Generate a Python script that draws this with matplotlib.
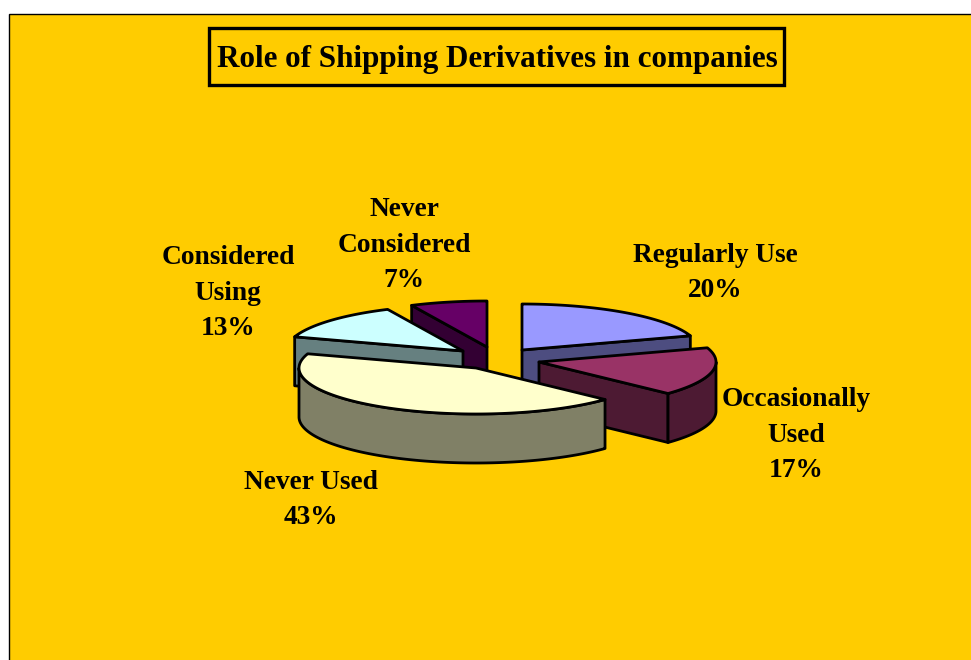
import matplotlib

matplotlib.use("Agg")

import numpy as np
import matplotlib.pyplot as plt
from matplotlib.patches import Polygon, Rectangle

title = "Role of Shipping Derivatives in companies"
categories = ["Regularly Use", "Occasionally\nUsed", "Never Used", "Considered\nUsing", "Never\nConsidered"]
shares = [20, 17, 43, 13, 7]

top_colors = ["#9999FF", "#993366", "#FFFFCC", "#CCFFFF", "#660066"]
side_colors = ["#4D4D80", "#4D1A33", "#808066", "#668080", "#330033"]

# exploded slice centres and label anchors, in pixels
centers = [(522, 350), (539, 362), (476, 368), (463, 351), (487, 347)]
label_pos = [(715, 273), (796, 435), (311, 500), (228, 293), (404, 245)]

RX, RY, DEPTH = 177, 46, 49
LW = 2.0

plt.rcParams["font.family"] = ["Liberation Serif", "DejaVu Serif"]
plt.rcParams["font.weight"] = "bold"

fig = plt.figure(figsize=(9.71, 6.6), dpi=100, facecolor="white")
ax = fig.add_axes([0, 0, 1, 1])
ax.set_xlim(0, 971)
ax.set_ylim(660, 0)
ax.axis("off")

ax.add_patch(Rectangle((8.5, 14), 975, 660, facecolor="#FFCC00", edgecolor="black", lw=1))


def rim(center, a, b):
    # points along the top edge, angles clockwise from 12 o'clock
    t = np.radians(np.linspace(a, b, max(int(abs(b - a)) * 2, 2)))
    return np.column_stack([center[0] + RX * np.sin(t), center[1] - RY * np.cos(t)])


def add_poly(pts, color):
    ax.add_patch(Polygon(pts, closed=True, facecolor=color, edgecolor="black", lw=LW, joinstyle="round"))


def wall(center, angle, color):
    edge = rim(center, angle, angle)[0]
    cx, cy = center
    add_poly([(cx, cy), edge, (edge[0], edge[1] + DEPTH), (cx, cy + DEPTH)], color)


def draw_slice(i, a, b):
    center = centers[i]
    # walls that face the viewer
    if np.sin(np.radians(a)) < -1e-6:
        wall(center, a, side_colors[i])
    if np.sin(np.radians(b)) > 1e-6:
        wall(center, b, side_colors[i])
    # front part of the outer rim
    lo, hi = max(a, 90), min(b, 270)
    if hi > lo:
        upper = rim(center, lo, hi)
        lower = upper[::-1] + [0, DEPTH]
        add_poly(np.vstack([upper, lower]), side_colors[i])
    add_poly(np.vstack([[center], rim(center, a, b)]), top_colors[i])


ends = np.cumsum(shares) / np.sum(shares) * 360
starts = np.concatenate([[0], ends[:-1]])

# back slices first so the large front one ends up on top
for i in [4, 3, 0, 1, 2]:
    draw_slice(i, starts[i], ends[i])

for name, share, (x, y) in zip(categories, shares, label_pos):
    ax.text(x, y, f"{name}\n{share}%", ha="center", va="center", fontsize=19.7, linespacing=1.53, color="black")

ax.add_patch(Rectangle((208.5, 27.5), 575, 57.5, facecolor="none", edgecolor="black", lw=2.4))
ax.text(497, 60, title, ha="center", va="center", fontsize=22.4, color="black")

fig.savefig("out.png", dpi=100)
plt.close(fig)
